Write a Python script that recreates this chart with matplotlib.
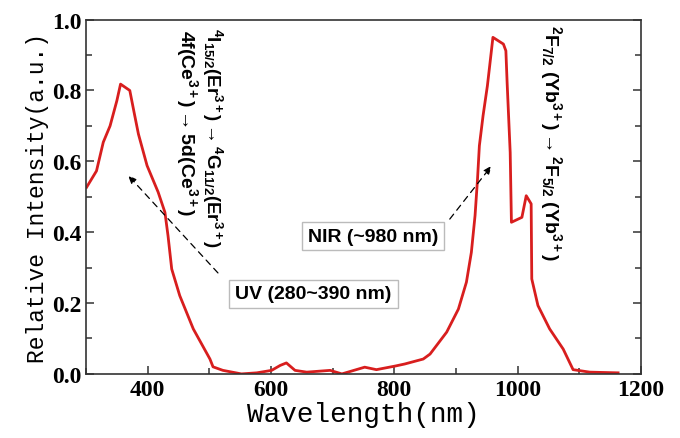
import numpy as np
import matplotlib
matplotlib.use("Agg")
import matplotlib.pyplot as plt
from matplotlib.ticker import MultipleLocator

# data
wavelength = [301, 317, 328, 339, 350, 356, 371, 378, 385, 399, 417, 428, 433, 439,
              452, 474, 501, 506, 522, 552, 577, 601, 615, 625, 639, 658, 696, 715,
              752, 771, 801, 817, 847, 858, 885, 904, 917, 925, 931, 935, 938, 944,
              951, 956, 960, 977, 981, 983, 988, 990, 1007, 1014, 1022, 1023, 1033,
              1052, 1074, 1090, 1117, 1163]
intensity = [0.527, 0.573, 0.654, 0.70, 0.771, 0.818, 0.80, 0.738, 0.677, 0.588, 0.513,
             0.456, 0.39, 0.296, 0.221, 0.127, 0.042, 0.02, 0.01, 0.0, 0.003, 0.01,
             0.024, 0.031, 0.01, 0.005, 0.01, 0.0, 0.019, 0.012, 0.022, 0.028, 0.042,
             0.056, 0.118, 0.183, 0.259, 0.343, 0.447, 0.55, 0.644, 0.729, 0.813,
             0.889, 0.95, 0.931, 0.912, 0.823, 0.625, 0.428, 0.442, 0.503, 0.48,
             0.268, 0.193, 0.127, 0.07, 0.012, 0.005, 0.003]

xticks = [400, 600, 800, 1000, 1200]
yticks = [0.0, 0.2, 0.4, 0.6, 0.8, 1.0]

plt.rcParams['mathtext.fontset'] = 'custom'
plt.rcParams['mathtext.rm'] = 'Liberation Sans:bold'
plt.rcParams['mathtext.bf'] = 'Liberation Sans:bold'
plt.rcParams['mathtext.it'] = 'Liberation Sans:bold'

fig = plt.figure(figsize=(6.8, 4.39), dpi=100)
ax = fig.add_axes([0.1265, 0.146, 0.816, 0.807])

ax.plot(wavelength, intensity, color='#d81e1e', lw=2)

ax.set_xlim(300, 1200)
ax.set_ylim(0, 1.0)
ax.set_xticks(xticks)
ax.set_yticks(yticks)
ax.xaxis.set_minor_locator(MultipleLocator(100))
ax.yaxis.set_minor_locator(MultipleLocator(0.1))
ax.set_xticklabels([str(v) for v in xticks])
ax.set_yticklabels(['%.1f' % v for v in yticks])
ax.tick_params(which='both', direction='in', right=True, top=False, color='#333333')
ax.tick_params(which='major', length=6, width=1.1)
ax.tick_params(which='minor', length=4, width=1.1)
for lab in ax.get_xticklabels() + ax.get_yticklabels():
    lab.set_family('Liberation Serif')
    lab.set_fontweight('bold')
    lab.set_fontsize(17)
for s in ax.spines.values():
    s.set_color('#333333')
    s.set_linewidth(1.2)

ax.set_xlabel('Wavelength(nm)', family='Liberation Mono', fontsize=20, labelpad=1)
ax.set_ylabel('Relative Intensity(a.u.)', family='Liberation Mono', fontsize=16.5, labelpad=2)

# transition labels
ax.text(504, 0.979, r'$^4$I$_{15/2}$(Er$^{3+}$)$\rightarrow$$^4$G$_{11/2}$(Er$^{3+}$)',
        rotation=-90, ha='center', va='top', fontsize=13.5, fontweight='bold',
        family='Liberation Sans')
ax.text(463, 0.973, r'4f(Ce$^{3+}$)$\rightarrow$5d(Ce$^{3+}$)',
        rotation=-90, ha='center', va='top', fontsize=14, fontweight='bold',
        family='Liberation Sans')
ax.text(1054, 0.987, r'$^2$F$_{7/2}$ (Yb$^{3+}$)$\rightarrow$$^2$F$_{5/2}$ (Yb$^{3+}$)',
        rotation=-90, ha='center', va='top', fontsize=14, fontweight='bold',
        family='Liberation Sans')

box = dict(boxstyle='square,pad=0.3', fc='white', ec='#bbbbbb', lw=1)
ax.text(669, 0.226, 'UV (280~390 nm)', ha='center', va='center', fontsize=14,
        fontweight='bold', family='Liberation Sans', bbox=box)
ax.text(765, 0.389, 'NIR (~980 nm)', ha='center', va='center', fontsize=14,
        fontweight='bold', family='Liberation Sans', bbox=box)

arrow = dict(arrowstyle='-|>,head_length=0.5,head_width=0.2', color='black',
             lw=0.9, linestyle=(0, (5, 4)), shrinkA=0, shrinkB=0)
ax.annotate('', xy=(368, 0.561), xytext=(514, 0.285), arrowprops=arrow)
ax.annotate('', xy=(958, 0.588), xytext=(890, 0.437), arrowprops=arrow)

fig.savefig('out.png', dpi=100)
